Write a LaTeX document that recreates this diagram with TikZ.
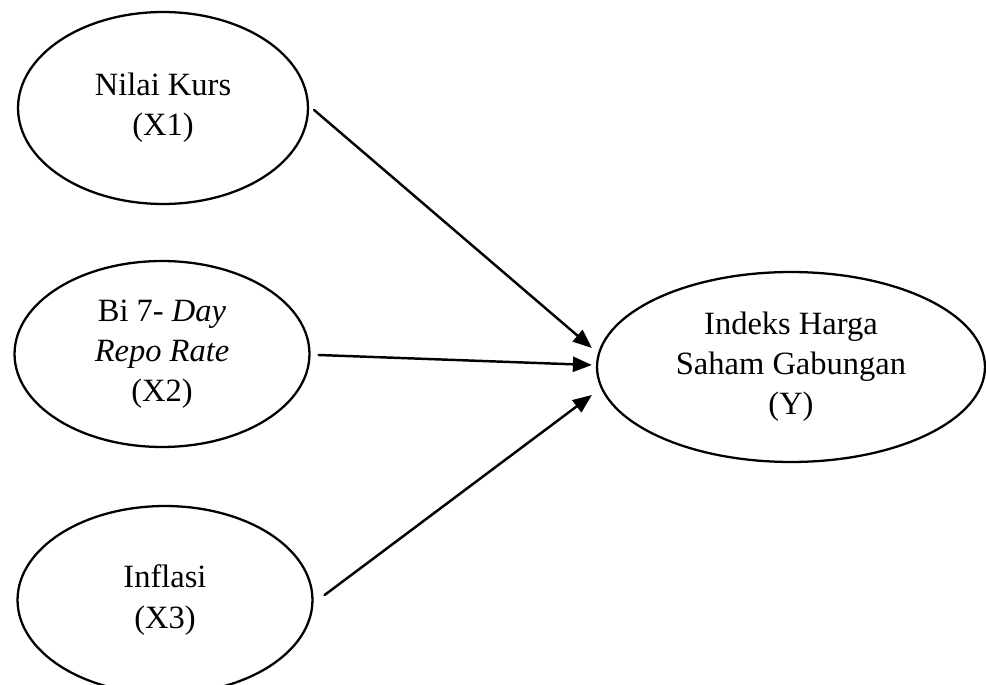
\documentclass[tikz,border=0pt]{standalone}
\usepackage{fontspec}
\setmainfont{Liberation Serif}
\usetikzlibrary{arrows.meta,shapes.geometric}

\begin{document}
\begin{tikzpicture}[line cap=round,line join=round,x=0.02cm,y=-0.02cm,
  var/.style={draw,ellipse,line width=1.3pt,inner sep=0pt,align=center,font=\fontsize{18.5}{22.8}\selectfont},
  arr/.style={-{Triangle[length=0.38cm,width=0.3cm]},line width=1.4pt}]
\useasboundingbox (0,0) rectangle (986,685);
\node[var,minimum width=5.8cm,minimum height=3.84cm] (x1) at (163,108) {Nilai Kurs\\(X1)};
\node[var,minimum width=5.9cm,minimum height=3.72cm] (x2) at (162,354) {Bi 7- \textit{Day}\\\textit{Repo Rate}\\(X2)};
\node[var,minimum width=5.9cm,minimum height=3.76cm] (x3) at (165,600) {Inflasi\\(X3)};
\node[var,minimum width=7.76cm,minimum height=3.8cm] (y) at (791,367) {Indeks Harga\\Saham Gabungan\\(Y)};
\draw[arr] ([shift={(5,2)}]x1.east) -- ([shift={(-4,-19)}]y.west);
\draw[arr] ([shift={(8,1)}]x2.east) -- ([shift={(-4,-2)}]y.west);
\draw[arr] ([shift={(11,-5)}]x3.east) -- ([shift={(-4,28)}]y.west);
\end{tikzpicture}
\end{document}
